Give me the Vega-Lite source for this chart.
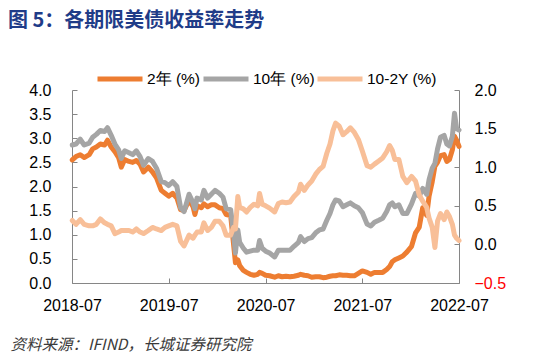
{
  "$schema": "https://vega.github.io/schema/vega-lite/v6.json",
  "width": 387,
  "height": 193,
  "autosize": {"type": "none"},
  "padding": {"left": 72, "top": 90, "right": 91, "bottom": 81},
  "background": "white",
  "title": {
    "text": "图 5：各期限美债收益率走势",
    "anchor": "start",
    "frame": "group",
    "dx": -64,
    "offset": 23,
    "font": "Noto Sans CJK SC",
    "fontSize": 20,
    "fontWeight": "bold",
    "color": "#1F3C88"
  },
  "config": {
    "view": {"stroke": null},
    "legend": {
      "orient": "none",
      "legendX": 23,
      "legendY": -36,
      "direction": "horizontal",
      "symbolType": "stroke",
      "symbolSize": 2025,
      "symbolStrokeWidth": 5,
      "labelFontSize": 15.5,
      "labelFont": "Liberation Sans",
      "labelColor": "black",
      "labelOffset": 2,
      "columnPadding": -13
    }
  },
  "data": {
    "values": [
      {"d":"2018-07-02","s":"2年 (%)","v":2.55},{"d":"2018-07-16","s":"2年 (%)","v":2.62},{"d":"2018-08-01","s":"2年 (%)","v":2.66},{"d":"2018-08-16","s":"2年 (%)","v":2.60},{"d":"2018-09-04","s":"2年 (%)","v":2.66},{"d":"2018-09-17","s":"2年 (%)","v":2.78},{"d":"2018-10-01","s":"2年 (%)","v":2.82},{"d":"2018-10-16","s":"2年 (%)","v":2.88},{"d":"2018-11-01","s":"2年 (%)","v":2.86},{"d":"2018-11-12","s":"2年 (%)","v":2.96},{"d":"2018-11-26","s":"2年 (%)","v":2.82},{"d":"2018-12-10","s":"2年 (%)","v":2.72},{"d":"2018-12-24","s":"2年 (%)","v":2.60},{"d":"2019-01-03","s":"2年 (%)","v":2.40},{"d":"2019-01-16","s":"2年 (%)","v":2.56},{"d":"2019-02-01","s":"2年 (%)","v":2.52},{"d":"2019-02-15","s":"2年 (%)","v":2.50},{"d":"2019-03-01","s":"2年 (%)","v":2.54},{"d":"2019-03-15","s":"2年 (%)","v":2.46},{"d":"2019-03-28","s":"2年 (%)","v":2.30},{"d":"2019-04-15","s":"2年 (%)","v":2.40},{"d":"2019-05-01","s":"2年 (%)","v":2.30},{"d":"2019-05-16","s":"2年 (%)","v":2.18},{"d":"2019-06-03","s":"2年 (%)","v":1.92},{"d":"2019-06-17","s":"2年 (%)","v":1.86},{"d":"2019-07-01","s":"2年 (%)","v":1.80},{"d":"2019-07-16","s":"2年 (%)","v":1.86},{"d":"2019-08-01","s":"2年 (%)","v":1.76},{"d":"2019-08-15","s":"2年 (%)","v":1.52},{"d":"2019-08-28","s":"2年 (%)","v":1.50},{"d":"2019-09-16","s":"2年 (%)","v":1.72},{"d":"2019-10-01","s":"2年 (%)","v":1.58},{"d":"2019-10-08","s":"2年 (%)","v":1.42},{"d":"2019-10-16","s":"2年 (%)","v":1.60},{"d":"2019-11-01","s":"2年 (%)","v":1.56},{"d":"2019-11-11","s":"2年 (%)","v":1.64},{"d":"2019-11-25","s":"2年 (%)","v":1.58},{"d":"2019-12-09","s":"2年 (%)","v":1.62},{"d":"2019-12-23","s":"2年 (%)","v":1.62},{"d":"2020-01-08","s":"2年 (%)","v":1.56},{"d":"2020-01-22","s":"2年 (%)","v":1.54},{"d":"2020-02-03","s":"2年 (%)","v":1.42},{"d":"2020-02-20","s":"2年 (%)","v":1.40},{"d":"2020-03-02","s":"2年 (%)","v":0.80},{"d":"2020-03-09","s":"2年 (%)","v":0.42},{"d":"2020-03-18","s":"2年 (%)","v":0.48},{"d":"2020-03-25","s":"2年 (%)","v":0.36},{"d":"2020-04-08","s":"2年 (%)","v":0.26},{"d":"2020-04-20","s":"2年 (%)","v":0.22},{"d":"2020-05-04","s":"2年 (%)","v":0.18},{"d":"2020-05-18","s":"2年 (%)","v":0.16},{"d":"2020-06-01","s":"2年 (%)","v":0.18},{"d":"2020-06-08","s":"2年 (%)","v":0.22},{"d":"2020-06-18","s":"2年 (%)","v":0.20},{"d":"2020-07-01","s":"2年 (%)","v":0.16},{"d":"2020-07-16","s":"2年 (%)","v":0.15},{"d":"2020-08-04","s":"2年 (%)","v":0.12},{"d":"2020-08-18","s":"2年 (%)","v":0.15},{"d":"2020-09-01","s":"2年 (%)","v":0.13},{"d":"2020-09-16","s":"2年 (%)","v":0.14},{"d":"2020-10-01","s":"2年 (%)","v":0.13},{"d":"2020-10-16","s":"2年 (%)","v":0.14},{"d":"2020-11-02","s":"2年 (%)","v":0.16},{"d":"2020-11-10","s":"2年 (%)","v":0.18},{"d":"2020-11-24","s":"2年 (%)","v":0.16},{"d":"2020-12-08","s":"2年 (%)","v":0.15},{"d":"2020-12-22","s":"2年 (%)","v":0.12},{"d":"2021-01-06","s":"2年 (%)","v":0.13},{"d":"2021-01-20","s":"2年 (%)","v":0.13},{"d":"2021-02-03","s":"2年 (%)","v":0.11},{"d":"2021-02-17","s":"2年 (%)","v":0.12},{"d":"2021-03-01","s":"2年 (%)","v":0.14},{"d":"2021-03-12","s":"2年 (%)","v":0.15},{"d":"2021-03-22","s":"2年 (%)","v":0.15},{"d":"2021-04-05","s":"2年 (%)","v":0.17},{"d":"2021-04-19","s":"2年 (%)","v":0.16},{"d":"2021-05-03","s":"2年 (%)","v":0.16},{"d":"2021-05-17","s":"2年 (%)","v":0.15},{"d":"2021-06-01","s":"2年 (%)","v":0.15},{"d":"2021-06-16","s":"2年 (%)","v":0.20},{"d":"2021-07-01","s":"2年 (%)","v":0.25},{"d":"2021-07-19","s":"2年 (%)","v":0.22},{"d":"2021-08-02","s":"2年 (%)","v":0.18},{"d":"2021-08-16","s":"2年 (%)","v":0.22},{"d":"2021-09-01","s":"2年 (%)","v":0.22},{"d":"2021-09-16","s":"2年 (%)","v":0.22},{"d":"2021-10-01","s":"2年 (%)","v":0.28},{"d":"2021-10-12","s":"2年 (%)","v":0.34},{"d":"2021-10-22","s":"2年 (%)","v":0.44},{"d":"2021-11-01","s":"2年 (%)","v":0.48},{"d":"2021-11-16","s":"2年 (%)","v":0.52},{"d":"2021-12-01","s":"2年 (%)","v":0.56},{"d":"2021-12-16","s":"2年 (%)","v":0.64},{"d":"2022-01-03","s":"2年 (%)","v":0.76},{"d":"2022-01-18","s":"2年 (%)","v":1.04},{"d":"2022-02-01","s":"2年 (%)","v":1.16},{"d":"2022-02-14","s":"2年 (%)","v":1.56},{"d":"2022-03-01","s":"2年 (%)","v":1.40},{"d":"2022-03-10","s":"2年 (%)","v":1.80},{"d":"2022-03-22","s":"2年 (%)","v":2.10},{"d":"2022-04-01","s":"2年 (%)","v":2.42},{"d":"2022-04-11","s":"2年 (%)","v":2.50},{"d":"2022-04-22","s":"2年 (%)","v":2.64},{"d":"2022-05-06","s":"2年 (%)","v":2.66},{"d":"2022-05-16","s":"2年 (%)","v":2.52},{"d":"2022-05-26","s":"2年 (%)","v":2.56},{"d":"2022-06-06","s":"2年 (%)","v":2.76},{"d":"2022-06-14","s":"2年 (%)","v":3.04},{"d":"2022-06-22","s":"2年 (%)","v":2.96},{"d":"2022-07-01","s":"2年 (%)","v":2.83},
      {"d":"2018-07-02","s":"10年 (%)","v":2.86},{"d":"2018-07-16","s":"10年 (%)","v":2.88},{"d":"2018-08-01","s":"10年 (%)","v":2.98},{"d":"2018-08-16","s":"10年 (%)","v":2.86},{"d":"2018-09-04","s":"10年 (%)","v":2.90},{"d":"2018-09-17","s":"10年 (%)","v":3.02},{"d":"2018-10-01","s":"10年 (%)","v":3.08},{"d":"2018-10-16","s":"10年 (%)","v":3.16},{"d":"2018-11-01","s":"10年 (%)","v":3.14},{"d":"2018-11-12","s":"10年 (%)","v":3.22},{"d":"2018-11-26","s":"10年 (%)","v":3.06},{"d":"2018-12-10","s":"10年 (%)","v":2.88},{"d":"2018-12-24","s":"10年 (%)","v":2.76},{"d":"2019-01-03","s":"10年 (%)","v":2.58},{"d":"2019-01-16","s":"10年 (%)","v":2.74},{"d":"2019-02-01","s":"10年 (%)","v":2.70},{"d":"2019-02-15","s":"10年 (%)","v":2.66},{"d":"2019-03-01","s":"10年 (%)","v":2.74},{"d":"2019-03-15","s":"10年 (%)","v":2.62},{"d":"2019-03-28","s":"10年 (%)","v":2.44},{"d":"2019-04-15","s":"10年 (%)","v":2.58},{"d":"2019-05-01","s":"10年 (%)","v":2.52},{"d":"2019-05-16","s":"10年 (%)","v":2.38},{"d":"2019-06-03","s":"10年 (%)","v":2.10},{"d":"2019-06-17","s":"10年 (%)","v":2.08},{"d":"2019-07-01","s":"10年 (%)","v":2.02},{"d":"2019-07-16","s":"10年 (%)","v":2.10},{"d":"2019-08-01","s":"10年 (%)","v":2.00},{"d":"2019-08-15","s":"10年 (%)","v":1.56},{"d":"2019-08-28","s":"10年 (%)","v":1.48},{"d":"2019-09-16","s":"10年 (%)","v":1.84},{"d":"2019-10-01","s":"10年 (%)","v":1.66},{"d":"2019-10-08","s":"10年 (%)","v":1.54},{"d":"2019-10-16","s":"10年 (%)","v":1.76},{"d":"2019-11-01","s":"10年 (%)","v":1.72},{"d":"2019-11-11","s":"10年 (%)","v":1.92},{"d":"2019-11-25","s":"10年 (%)","v":1.76},{"d":"2019-12-09","s":"10年 (%)","v":1.84},{"d":"2019-12-23","s":"10年 (%)","v":1.92},{"d":"2020-01-08","s":"10年 (%)","v":1.86},{"d":"2020-01-22","s":"10年 (%)","v":1.78},{"d":"2020-02-03","s":"10年 (%)","v":1.54},{"d":"2020-02-20","s":"10年 (%)","v":1.52},{"d":"2020-03-02","s":"10年 (%)","v":1.02},{"d":"2020-03-09","s":"10年 (%)","v":0.62},{"d":"2020-03-18","s":"10年 (%)","v":1.10},{"d":"2020-03-25","s":"10年 (%)","v":0.84},{"d":"2020-04-08","s":"10年 (%)","v":0.72},{"d":"2020-04-20","s":"10年 (%)","v":0.64},{"d":"2020-05-04","s":"10年 (%)","v":0.66},{"d":"2020-05-18","s":"10年 (%)","v":0.68},{"d":"2020-06-01","s":"10年 (%)","v":0.68},{"d":"2020-06-08","s":"10年 (%)","v":0.88},{"d":"2020-06-18","s":"10年 (%)","v":0.72},{"d":"2020-07-01","s":"10年 (%)","v":0.66},{"d":"2020-07-16","s":"10年 (%)","v":0.62},{"d":"2020-08-04","s":"10年 (%)","v":0.54},{"d":"2020-08-18","s":"10年 (%)","v":0.68},{"d":"2020-09-01","s":"10年 (%)","v":0.68},{"d":"2020-09-16","s":"10年 (%)","v":0.68},{"d":"2020-10-01","s":"10年 (%)","v":0.68},{"d":"2020-10-16","s":"10年 (%)","v":0.76},{"d":"2020-11-02","s":"10年 (%)","v":0.84},{"d":"2020-11-10","s":"10年 (%)","v":0.96},{"d":"2020-11-24","s":"10年 (%)","v":0.86},{"d":"2020-12-08","s":"10年 (%)","v":0.92},{"d":"2020-12-22","s":"10年 (%)","v":0.94},{"d":"2021-01-06","s":"10年 (%)","v":1.04},{"d":"2021-01-20","s":"10年 (%)","v":1.10},{"d":"2021-02-03","s":"10年 (%)","v":1.12},{"d":"2021-02-17","s":"10年 (%)","v":1.30},{"d":"2021-03-01","s":"10年 (%)","v":1.44},{"d":"2021-03-12","s":"10年 (%)","v":1.62},{"d":"2021-03-22","s":"10年 (%)","v":1.72},{"d":"2021-04-05","s":"10年 (%)","v":1.70},{"d":"2021-04-19","s":"10年 (%)","v":1.58},{"d":"2021-05-03","s":"10年 (%)","v":1.62},{"d":"2021-05-17","s":"10年 (%)","v":1.66},{"d":"2021-06-01","s":"10年 (%)","v":1.60},{"d":"2021-06-16","s":"10年 (%)","v":1.56},{"d":"2021-07-01","s":"10年 (%)","v":1.46},{"d":"2021-07-19","s":"10年 (%)","v":1.22},{"d":"2021-08-02","s":"10年 (%)","v":1.18},{"d":"2021-08-16","s":"10年 (%)","v":1.26},{"d":"2021-09-01","s":"10年 (%)","v":1.30},{"d":"2021-09-16","s":"10年 (%)","v":1.34},{"d":"2021-10-01","s":"10年 (%)","v":1.48},{"d":"2021-10-12","s":"10年 (%)","v":1.62},{"d":"2021-10-22","s":"10年 (%)","v":1.66},{"d":"2021-11-01","s":"10年 (%)","v":1.58},{"d":"2021-11-16","s":"10年 (%)","v":1.62},{"d":"2021-12-01","s":"10年 (%)","v":1.44},{"d":"2021-12-16","s":"10年 (%)","v":1.44},{"d":"2022-01-03","s":"10年 (%)","v":1.64},{"d":"2022-01-18","s":"10年 (%)","v":1.86},{"d":"2022-02-01","s":"10年 (%)","v":1.80},{"d":"2022-02-14","s":"10年 (%)","v":1.96},{"d":"2022-03-01","s":"10年 (%)","v":1.84},{"d":"2022-03-10","s":"10年 (%)","v":2.14},{"d":"2022-03-22","s":"10年 (%)","v":2.38},{"d":"2022-04-01","s":"10年 (%)","v":2.48},{"d":"2022-04-11","s":"10年 (%)","v":2.78},{"d":"2022-04-22","s":"10年 (%)","v":3.02},{"d":"2022-05-06","s":"10年 (%)","v":3.06},{"d":"2022-05-16","s":"10年 (%)","v":2.88},{"d":"2022-05-26","s":"10年 (%)","v":2.84},{"d":"2022-06-06","s":"10年 (%)","v":3.04},{"d":"2022-06-14","s":"10年 (%)","v":3.52},{"d":"2022-06-22","s":"10年 (%)","v":3.20},{"d":"2022-07-01","s":"10年 (%)","v":3.17},
      {"d":"2018-07-02","s":"10-2Y (%)","v":0.31},{"d":"2018-07-16","s":"10-2Y (%)","v":0.26},{"d":"2018-08-01","s":"10-2Y (%)","v":0.32},{"d":"2018-08-16","s":"10-2Y (%)","v":0.26},{"d":"2018-09-04","s":"10-2Y (%)","v":0.24},{"d":"2018-09-17","s":"10-2Y (%)","v":0.24},{"d":"2018-10-01","s":"10-2Y (%)","v":0.26},{"d":"2018-10-16","s":"10-2Y (%)","v":0.33},{"d":"2018-11-01","s":"10-2Y (%)","v":0.28},{"d":"2018-11-12","s":"10-2Y (%)","v":0.26},{"d":"2018-11-26","s":"10-2Y (%)","v":0.24},{"d":"2018-12-10","s":"10-2Y (%)","v":0.14},{"d":"2018-12-24","s":"10-2Y (%)","v":0.16},{"d":"2019-01-03","s":"10-2Y (%)","v":0.18},{"d":"2019-01-16","s":"10-2Y (%)","v":0.18},{"d":"2019-02-01","s":"10-2Y (%)","v":0.18},{"d":"2019-02-15","s":"10-2Y (%)","v":0.16},{"d":"2019-03-01","s":"10-2Y (%)","v":0.20},{"d":"2019-03-15","s":"10-2Y (%)","v":0.16},{"d":"2019-03-28","s":"10-2Y (%)","v":0.14},{"d":"2019-04-15","s":"10-2Y (%)","v":0.18},{"d":"2019-05-01","s":"10-2Y (%)","v":0.22},{"d":"2019-05-16","s":"10-2Y (%)","v":0.20},{"d":"2019-06-03","s":"10-2Y (%)","v":0.18},{"d":"2019-06-17","s":"10-2Y (%)","v":0.22},{"d":"2019-07-01","s":"10-2Y (%)","v":0.24},{"d":"2019-07-16","s":"10-2Y (%)","v":0.26},{"d":"2019-08-01","s":"10-2Y (%)","v":0.24},{"d":"2019-08-15","s":"10-2Y (%)","v":0.04},{"d":"2019-08-28","s":"10-2Y (%)","v":-0.02},{"d":"2019-09-16","s":"10-2Y (%)","v":0.12},{"d":"2019-10-01","s":"10-2Y (%)","v":0.08},{"d":"2019-10-08","s":"10-2Y (%)","v":0.12},{"d":"2019-10-16","s":"10-2Y (%)","v":0.16},{"d":"2019-11-01","s":"10-2Y (%)","v":0.16},{"d":"2019-11-11","s":"10-2Y (%)","v":0.28},{"d":"2019-11-25","s":"10-2Y (%)","v":0.18},{"d":"2019-12-09","s":"10-2Y (%)","v":0.22},{"d":"2019-12-23","s":"10-2Y (%)","v":0.30},{"d":"2020-01-08","s":"10-2Y (%)","v":0.30},{"d":"2020-01-22","s":"10-2Y (%)","v":0.24},{"d":"2020-02-03","s":"10-2Y (%)","v":0.12},{"d":"2020-02-20","s":"10-2Y (%)","v":0.12},{"d":"2020-03-02","s":"10-2Y (%)","v":0.22},{"d":"2020-03-09","s":"10-2Y (%)","v":0.20},{"d":"2020-03-18","s":"10-2Y (%)","v":0.62},{"d":"2020-03-25","s":"10-2Y (%)","v":0.48},{"d":"2020-04-08","s":"10-2Y (%)","v":0.46},{"d":"2020-04-20","s":"10-2Y (%)","v":0.42},{"d":"2020-05-04","s":"10-2Y (%)","v":0.48},{"d":"2020-05-18","s":"10-2Y (%)","v":0.52},{"d":"2020-06-01","s":"10-2Y (%)","v":0.50},{"d":"2020-06-08","s":"10-2Y (%)","v":0.66},{"d":"2020-06-18","s":"10-2Y (%)","v":0.52},{"d":"2020-07-01","s":"10-2Y (%)","v":0.50},{"d":"2020-07-16","s":"10-2Y (%)","v":0.47},{"d":"2020-08-04","s":"10-2Y (%)","v":0.42},{"d":"2020-08-18","s":"10-2Y (%)","v":0.53},{"d":"2020-09-01","s":"10-2Y (%)","v":0.55},{"d":"2020-09-16","s":"10-2Y (%)","v":0.54},{"d":"2020-10-01","s":"10-2Y (%)","v":0.55},{"d":"2020-10-16","s":"10-2Y (%)","v":0.62},{"d":"2020-11-02","s":"10-2Y (%)","v":0.68},{"d":"2020-11-10","s":"10-2Y (%)","v":0.78},{"d":"2020-11-24","s":"10-2Y (%)","v":0.70},{"d":"2020-12-08","s":"10-2Y (%)","v":0.77},{"d":"2020-12-22","s":"10-2Y (%)","v":0.82},{"d":"2021-01-06","s":"10-2Y (%)","v":0.91},{"d":"2021-01-20","s":"10-2Y (%)","v":0.97},{"d":"2021-02-03","s":"10-2Y (%)","v":1.01},{"d":"2021-02-17","s":"10-2Y (%)","v":1.18},{"d":"2021-03-01","s":"10-2Y (%)","v":1.30},{"d":"2021-03-12","s":"10-2Y (%)","v":1.47},{"d":"2021-03-22","s":"10-2Y (%)","v":1.57},{"d":"2021-04-05","s":"10-2Y (%)","v":1.53},{"d":"2021-04-19","s":"10-2Y (%)","v":1.42},{"d":"2021-05-03","s":"10-2Y (%)","v":1.46},{"d":"2021-05-17","s":"10-2Y (%)","v":1.51},{"d":"2021-06-01","s":"10-2Y (%)","v":1.45},{"d":"2021-06-16","s":"10-2Y (%)","v":1.36},{"d":"2021-07-01","s":"10-2Y (%)","v":1.21},{"d":"2021-07-19","s":"10-2Y (%)","v":1.02},{"d":"2021-08-02","s":"10-2Y (%)","v":1.00},{"d":"2021-08-16","s":"10-2Y (%)","v":1.04},{"d":"2021-09-01","s":"10-2Y (%)","v":1.08},{"d":"2021-09-16","s":"10-2Y (%)","v":1.12},{"d":"2021-10-01","s":"10-2Y (%)","v":1.20},{"d":"2021-10-12","s":"10-2Y (%)","v":1.28},{"d":"2021-10-22","s":"10-2Y (%)","v":1.22},{"d":"2021-11-01","s":"10-2Y (%)","v":1.10},{"d":"2021-11-16","s":"10-2Y (%)","v":1.10},{"d":"2021-12-01","s":"10-2Y (%)","v":0.88},{"d":"2021-12-16","s":"10-2Y (%)","v":0.80},{"d":"2022-01-03","s":"10-2Y (%)","v":0.88},{"d":"2022-01-18","s":"10-2Y (%)","v":0.82},{"d":"2022-02-01","s":"10-2Y (%)","v":0.64},{"d":"2022-02-14","s":"10-2Y (%)","v":0.56},{"d":"2022-03-01","s":"10-2Y (%)","v":0.48},{"d":"2022-03-10","s":"10-2Y (%)","v":0.34},{"d":"2022-03-22","s":"10-2Y (%)","v":0.22},{"d":"2022-04-01","s":"10-2Y (%)","v":-0.04},{"d":"2022-04-11","s":"10-2Y (%)","v":0.30},{"d":"2022-04-22","s":"10-2Y (%)","v":0.40},{"d":"2022-05-06","s":"10-2Y (%)","v":0.32},{"d":"2022-05-16","s":"10-2Y (%)","v":0.42},{"d":"2022-05-26","s":"10-2Y (%)","v":0.36},{"d":"2022-06-06","s":"10-2Y (%)","v":0.26},{"d":"2022-06-14","s":"10-2Y (%)","v":0.12},{"d":"2022-06-22","s":"10-2Y (%)","v":0.08},{"d":"2022-07-01","s":"10-2Y (%)","v":0.05}
    ]
  },
  "encoding": {
    "x": {
      "field": "d",
      "type": "temporal",
      "scale": {"domain": [{"year": 2018, "month": 7, "date": 1}, {"year": 2022, "month": 7, "date": 1}]},
      "axis": {
        "values": [{"year": 2018, "month": 7, "date": 1}, {"year": 2019, "month": 7, "date": 1}, {"year": 2020, "month": 7, "date": 1}, {"year": 2021, "month": 7, "date": 1}, {"year": 2022, "month": 7, "date": 1}],
        "format": "%Y-%m",
        "grid": false,
        "labelFlush": false,
        "labelOverlap": false,
        "labelFont": "Liberation Sans",
        "labelFontSize": 16,
        "labelColor": "black",
        "labelPadding": 19,
        "tickSize": -5,
        "tickColor": "#868686",
        "domainColor": "#868686",
        "title": "资料来源：IFIND，长城证券研究院",
        "titleFont": "Noto Sans CJK SC",
        "titleFontSize": 15.5,
        "titleFontStyle": "italic",
        "titleFontWeight": "normal",
        "titleColor": "#3a3a3a",
        "titleAnchor": "start",
        "titleAlign": "left",
        "titleBaseline": "middle",
        "titleX": -62,
        "titleY": 61
      }
    },
    "color": {
      "field": "s",
      "type": "nominal",
      "scale": {"domain": ["2年 (%)", "10年 (%)", "10-2Y (%)"], "range": ["#ED7D31", "#A5A5A5", "#F8BF98"]},
      "legend": {"title": null}
    }
  },
  "layer": [
    {
      "transform": [{"filter": "datum.s !== '10-2Y (%)'"}],
      "mark": {"type": "line", "strokeWidth": 5, "strokeCap": "round", "strokeJoin": "round"},
      "encoding": {
        "y": {
          "field": "v",
          "type": "quantitative",
          "scale": {"domain": [0, 4]},
          "axis": {
            "values": [0, 0.5, 1, 1.5, 2, 2.5, 3, 3.5, 4],
            "format": ".1f",
            "grid": false,
            "title": null,
            "labelFont": "Liberation Sans",
            "labelFontSize": 16,
            "labelColor": "black",
            "labelPadding": 26,
            "tickSize": -5,
            "tickColor": "#868686",
            "domainColor": "#868686"
          }
        }
      }
    },
    {
      "transform": [{"filter": "datum.s === '10-2Y (%)'"}],
      "mark": {"type": "line", "strokeWidth": 5, "strokeCap": "round", "strokeJoin": "round"},
      "encoding": {
        "y": {
          "field": "v",
          "type": "quantitative",
          "scale": {"domain": [-0.5, 2]},
          "axis": {
            "orient": "right",
            "values": [-0.5, 0, 0.5, 1, 1.5, 2],
            "format": ".1f",
            "grid": false,
            "title": null,
            "labelFont": "Liberation Sans",
            "labelFontSize": 16,
            "labelColor": {"condition": {"test": "datum.value < 0", "value": "#FF0000"}, "value": "black"},
            "labelPadding": 20,
            "tickSize": -5,
            "tickColor": "#868686",
            "domainColor": "#868686"
          }
        }
      }
    }
  ],
  "resolve": {"scale": {"y": "independent"}}
}
